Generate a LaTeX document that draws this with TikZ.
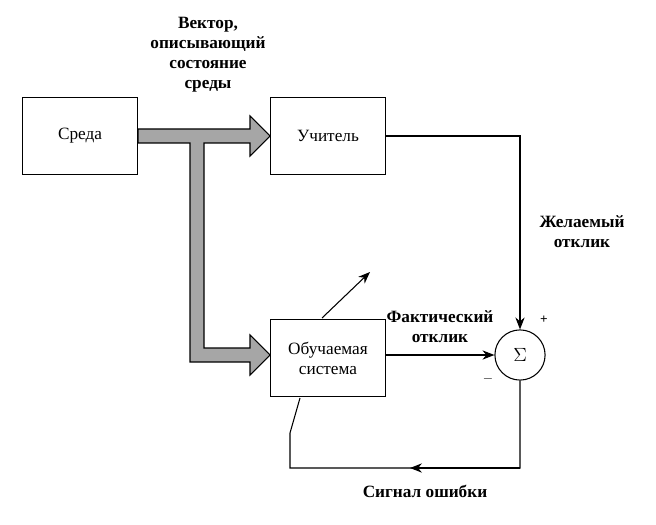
\documentclass[tikz,border=0pt]{standalone}
\usepackage{fontspec}
\setmainfont{Liberation Serif}
\usetikzlibrary{arrows.meta}
\tikzset{%
    blk/.style={draw, thick, minimum width=3.05cm, minimum height=2.04cm, align=center, font=\fontsize{13}{15}\selectfont},
    lbl/.style={align=center, font=\bfseries\fontsize{13}{15}\selectfont},
    sig/.style={thick, -{Stealth[length=9pt,width=7pt]}}
}
\begin{document}
\begin{tikzpicture}[x=0.0265cm, y=-0.0265cm]
            \useasboundingbox (0,0) rectangle (656,525);

            % blocks
            \node[blk] (S) at (80,136){Среда};
            \node[blk] (T) at (328,136){Учитель};
            \node[blk] (L) at (328,358){Обучаемая\\система};
            \node[draw, thick, circle, minimum size=1.33cm, font=\Large] (E) at (520,355){$\Sigma$};

            % wide arrow carrying the state vector
            \draw[thick, fill=gray!70] (138,129) -- (250,129) -- (250,116) -- (270,136)
                -- (250,156) -- (250,143) -- (204,143) -- (204,348) -- (250,348)
                -- (250,335) -- (270,355) -- (250,375) -- (250,362) -- (190,362)
                -- (190,143) -- (138,143) -- cycle;
            \node[lbl] (V) at (208,55){Вектор,\\описывающий\\состояние\\среды};

            % responses
            \coordinate (c1) at (520,136);
            \draw[sig] (T.east) -- (c1) -- (E.north);
            \node[lbl] (D) at (582,232){Желаемый\\отклик};
            \draw[sig] (L.east |- E.west) -- (E.west);
            \node[lbl] (F) at (440,327){Фактический\\отклик};
            \node[font=\bfseries] (pl) at (544,320){+};
            \node[font=\bfseries] (mi) at (488,379){$-$};

            % error feedback
            \coordinate (c2) at (520,468);
            \coordinate (c3) at (290,468);
            \coordinate (c4) at (290,433);
            \coordinate (c5) at (300,398);
            \draw[thick] (E.south) -- (c2) -- (c3) -- (c4) -- (c5);
            \draw[sig] (c2) -- (410,468);
            \node[lbl] (Er) at (425,491){Сигнал ошибки};

            % adjustment arrow
            \coordinate (a1) at (322,318);
            \coordinate (a2) at (370,272);
            \draw[sig] (a1) -- (a2);
        \end{tikzpicture}
\end{document}
